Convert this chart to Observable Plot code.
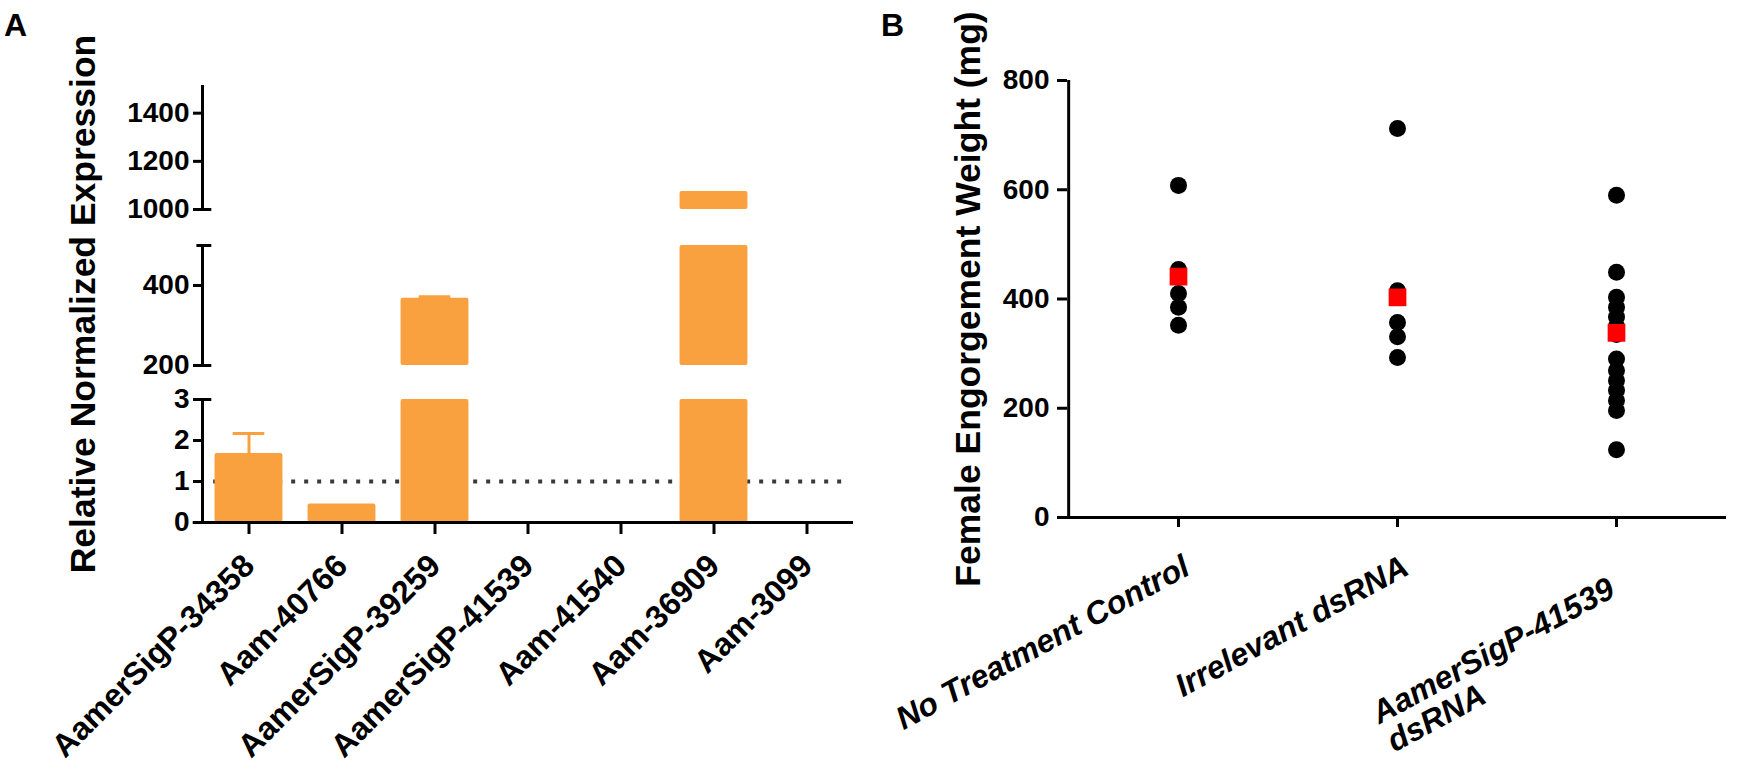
<!DOCTYPE html>
<html><head><meta charset="utf-8">
<script src="https://cdn.jsdelivr.net/npm/d3@7"></script>
<script src="https://cdn.jsdelivr.net/npm/@observablehq/plot@0.6"></script>
<style>
body{margin:0;background:#fff;}
#fig{position:relative;width:1737px;height:771px;overflow:hidden;font-family:"Liberation Sans",Arial,sans-serif;background:#fff;}
.panel{position:absolute;top:0;}
.letter{position:absolute;font-weight:bold;font-size:32px;line-height:1;color:#000;}
</style></head><body>
<div id="fig">
  <div id="pa" class="panel" style="left:0"></div>
  <div id="pb" class="panel" style="left:870px"></div>
  <div class="letter" style="left:4px;top:9px">A</div>
  <div class="letter" style="left:881px;top:9px">B</div>
</div>
<script>
// ---- Panel A data ----
const genes = ["AamerSigP-34358","Aam-40766","AamerSigP-39259","AamerSigP-41539","Aam-41540","Aam-36909","Aam-3099"];
const expression = [1.68, 0.45, 368, 0.02, 0.01, 1075, 0.02];
const expressionErr = [0.49, 0, 4, 0, 0, 0, 0];
const yTicksA = [0, 1, 2, 3, 200, 400, 1000, 1200, 1400];
const axisBreaks = [[0, 3], [200, 500], [1000, 1515]];
const referenceLevel = [1];

// ---- Panel B data ----
const groups = ["No Treatment Control", "Irrelevant dsRNA", "AamerSigP-41539 dsRNA"];
const groupLabels = ["No Treatment Control", "Irrelevant dsRNA", "AamerSigP-41539\ndsRNA"];
const noTreatment = [608, 454, 410, 385, 352];
const irrelevant = [712, 415, 357, 331, 293];
const sigp41539 = [590, 449, 403, 385, 367, 350, 335, 290, 269, 251, 233, 214, 196, 124];
const groupMeans = [441, 403, 338];
const yTicksB = [0, 200, 400, 600, 800];

const H = 771;
const FONT = "Liberation Sans, Arial, sans-serif";
const orange = "#F9A03F";

// ---------- Panel A ----------
{
  const W = 870;
  const bars = [];
  genes.forEach((g, i) => {
    const v = expression[i];
    axisBreaks.forEach(([lo, hi]) => { if (v > lo) bars.push({i, y1: lo, y2: Math.min(v, hi)}); });
  });
  const errs = genes.map((g, i) => ({i, v: expression[i], e: expressionErr[i]})).filter(d => d.e > 0);
  const hw = 0.365;
  const chart = Plot.plot({
    width: W, height: H,
    marginLeft: 202, marginRight: 17, marginTop: 85, marginBottom: H - 522,
    style: {fontFamily: FONT, fontWeight: "bold", color: "#000", background: "#fff", overflow: "visible"},
    x: {type: "linear", domain: [-0.5, genes.length - 0.5]},
    y: {type: "linear", domain: axisBreaks.flat(), range: [522, 399, 365, 245, 209, 85]},
    marks: [
      Plot.ruleY(referenceLevel, {x1: -0.38, x2: 6.435, stroke: "#3a3a3a", strokeWidth: 4, strokeDasharray: "4 9"}),
      Plot.rect(bars, {x1: d => d.i - hw, x2: d => d.i + hw, y1: "y1", y2: "y2", fill: orange, rx: 2}),
      Plot.ruleX(errs, {x: "i", y1: "v", y2: d => d.v + d.e, stroke: orange, strokeWidth: 3}),
      Plot.ruleY(errs, {y: d => d.v + d.e, x1: d => d.i - 0.17, x2: d => d.i + 0.17, stroke: orange, strokeWidth: 3}),
      Plot.ruleX(axisBreaks, {x: -0.5, y1: d => d[0], y2: d => d[1], stroke: "#000", strokeWidth: 3}),
      Plot.ruleY([3, 200, 500, 1000], {x1: -0.56, x2: -0.4, stroke: "#000", strokeWidth: 3}),
      Plot.ruleY([0], {x1: -0.6, x2: genes.length - 0.5, stroke: "#000", strokeWidth: 3}),
      Plot.axisY({ticks: yTicksA, tickFormat: "d", tickSize: 9, tickPadding: 4, fontSize: 28, fontWeight: "bold", strokeWidth: 3, label: null}),
      Plot.axisX({ticks: d3.range(genes.length), tickFormat: i => genes[i], tickSize: 12, tickPadding: 26, tickRotate: -45, fontSize: 32, fontWeight: "bold", strokeWidth: 3, label: null}),
      Plot.text(["Relative Normalized Expression"], {frameAnchor: "left", textAnchor: "middle", lineAnchor: "middle", rotate: -90, dx: -118.5, fontSize: 35.5, fontWeight: "bold", fill: "#000"})
    ]
  });
  document.getElementById("pa").appendChild(chart);
}

// ---------- Panel B ----------
{
  const W = 867, mL = 197, mR = 11;
  const pts = [];
  [noTreatment, irrelevant, sigp41539].forEach((arr, k) => arr.forEach(v => pts.push({g: groups[k], v})));
  const meansData = groups.map((g, k) => ({g, v: groupMeans[k]}));
  const step = (W - mL - mR) / groups.length;
  const fontB = 32, ang = 28.5, th = ang * Math.PI / 180;
  const ctx = document.createElement("canvas").getContext("2d");
  ctx.font = `italic bold ${fontB}px "Liberation Sans"`;
  const labelMarks = groupLabels.map((lab, k) => {
    const lines = lab.split("\n");
    const L = ctx.measureText(lines[0]).width;
    const multi = lines.length > 1;
    const px = multi ? -5 : 8, py = multi ? 68 : 46;
    const dx = px - L * Math.cos(th) - 0.355 * fontB * Math.sin(th);
    const dy = py + L * Math.sin(th) - 0.355 * fontB * Math.cos(th);
    return Plot.text([lab], {x: () => groups[k], y: () => 0, text: d => d, textAnchor: "start", lineAnchor: "top",
      rotate: -ang, dx, dy, fontSize: fontB, fontStyle: "italic", fontWeight: "bold", fill: "#000"});
  });
  const chart = Plot.plot({
    width: W, height: H,
    marginLeft: mL, marginRight: mR, marginTop: 80, marginBottom: H - 517,
    style: {fontFamily: FONT, fontWeight: "bold", color: "#000", background: "#fff", overflow: "visible"},
    x: {type: "point", domain: groups, padding: 0.5},
    y: {type: "linear", domain: [0, 800]},
    marks: [
      Plot.ruleY([0], {stroke: "#000", strokeWidth: 3, insetLeft: -9}),
      Plot.ruleX([groups[0]], {x: d => d, y1: 0, y2: 800, dx: -step / 2, stroke: "#000", strokeWidth: 3}),
      Plot.axisY({ticks: yTicksB, tickSize: 10, tickPadding: 8, fontSize: 28, fontWeight: "bold", strokeWidth: 3, label: null}),
      Plot.axisX({tickSize: 10, tickFormat: () => "", strokeWidth: 3, label: null}),
      Plot.dot(pts, {x: "g", y: "v", r: 8.5, fill: "#000"}),
      Plot.dot(meansData, {x: "g", y: "v", symbol: "square", r: 10, fill: "#f00"}),
      Plot.text(["Female Engorgement Weight (mg)"], {frameAnchor: "left", textAnchor: "middle", lineAnchor: "middle", rotate: -90, dx: -99, fontSize: 35.5, fontWeight: "bold", fill: "#000"}),
      ...labelMarks
    ]
  });
  document.getElementById("pb").appendChild(chart);
}
</script>
</body></html>
